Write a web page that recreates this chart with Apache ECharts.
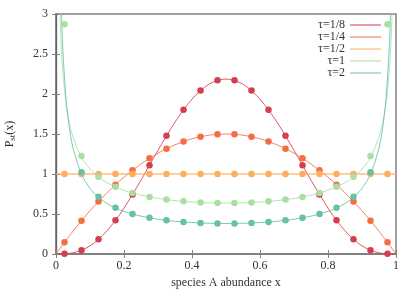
<!DOCTYPE html>
<html><head><meta charset="utf-8">
<script src="https://cdn.jsdelivr.net/npm/echarts@6/dist/echarts.min.js"></script>
<style>html,body{margin:0;padding:0;background:#fff}#c{width:415px;height:291px}</style>
</head><body><div id="c"></div>
<script>
// x positions of the smooth theory curves
const lineX = [0, 0.005, 0.01, 0.015, 0.02, 0.03, 0.04, 0.05, 0.075, 0.1, 0.125, 0.15, 0.175, 0.2, 0.25, 0.3, 0.35, 0.4, 0.45, 0.5,
  0.55, 0.6, 0.65, 0.7, 0.75, 0.8, 0.825, 0.85, 0.875, 0.9, 0.925, 0.95, 0.96, 0.97, 0.98, 0.985, 0.99, 0.995, 1];
const lineTau8 = [0, 0.0000, 0.0001, 0.0005, 0.0011, 0.0035, 0.0079, 0.0150, 0.0467, 0.1021, 0.1832, 0.2902, 0.4213, 0.5734, 0.9229, 1.2965, 1.6484, 1.9354, 2.1225, 2.1875,
  2.1225, 1.9354, 1.6484, 1.2965, 0.9229, 0.5734, 0.4213, 0.2902, 0.1832, 0.1021, 0.0467, 0.0150, 0.0079, 0.0035, 0.0011, 0.0005, 0.0001, 0.0000, 0];
const lineTau4 = [0, 0.0299, 0.0594, 0.0887, 0.1176, 0.1746, 0.2304, 0.285, 0.4163, 0.54, 0.6563, 0.765, 0.8663, 0.96, 1.125, 1.26, 1.365, 1.44, 1.485, 1.5,
  1.485, 1.44, 1.365, 1.26, 1.125, 0.96, 0.8663, 0.765, 0.6563, 0.54, 0.4163, 0.285, 0.2304, 0.1746, 0.1176, 0.0887, 0.0594, 0.0299, 0];
const lineTau2 = [1, 1, 1, 1, 1, 1, 1, 1, 1, 1, 1, 1, 1, 1, 1, 1, 1, 1, 1, 1,
  1, 1, 1, 1, 1, 1, 1, 1, 1, 1, 1, 1, 1, 1, 1, 1, 1, 1, 1];
const lineTau1 = [null, 4.513, 3.199, 2.619, 2.274, 1.866, 1.624, 1.461, 1.209, 1.061, 0.9625, 0.8914, 0.8377, 0.7958, 0.7351, 0.6946, 0.6674, 0.6497, 0.6398, 0.6366,
  0.6398, 0.6497, 0.6674, 0.6946, 0.7351, 0.7958, 0.8377, 0.8914, 0.9625, 1.061, 1.209, 1.461, 1.624, 1.866, 2.274, 2.619, 3.199, 4.513, null];
const lineTauTwo = [null, 7.198, 4.296, 3.182, 2.574, 1.914, 1.555, 1.325, 0.9975, 0.8206, 0.7089, 0.6320, 0.5757, 0.5330, 0.4732, 0.4347, 0.4093, 0.3932, 0.3843, 0.3814,
  0.3843, 0.3932, 0.4093, 0.4347, 0.4732, 0.5330, 0.5757, 0.6320, 0.7089, 0.8206, 0.9975, 1.325, 1.555, 1.914, 2.574, 3.182, 4.296, 7.198, null];

// x positions of the simulation points
const dotX = [0.025, 0.075, 0.125, 0.175, 0.225, 0.275, 0.325, 0.375, 0.425, 0.475,
  0.525, 0.575, 0.625, 0.675, 0.725, 0.775, 0.825, 0.875, 0.925, 0.975];
const dotTau8 = [0.0020, 0.0467, 0.1832, 0.4213, 0.7423, 1.1095, 1.478, 1.8025, 2.0431, 2.1711,
  2.1711, 2.0431, 1.8025, 1.478, 1.1095, 0.7423, 0.4213, 0.1832, 0.0467, 0.0020];
const dotTau4 = [0.1463, 0.4163, 0.6563, 0.8663, 1.0463, 1.1963, 1.3163, 1.4063, 1.4663, 1.4963,
  1.4963, 1.4663, 1.4063, 1.3163, 1.1963, 1.0463, 0.8663, 0.6563, 0.4163, 0.1463];
const dotTau2 = [1, 1, 1, 1, 1, 1, 1, 1, 1, 1, 1, 1, 1, 1, 1, 1, 1, 1, 1, 1];
const dotTau1 = [2.871, 1.225, 0.967, 0.840, 0.763, 0.714, 0.680, 0.658, 0.644, 0.638,
  0.638, 0.644, 0.658, 0.680, 0.714, 0.763, 0.840, 0.967, 1.225, 2.871];
const dotTauTwo = [5.14, 1.023, 0.715, 0.578, 0.501, 0.453, 0.421, 0.401, 0.388, 0.382,
  0.382, 0.388, 0.401, 0.421, 0.453, 0.501, 0.578, 0.715, 1.023, 5.14];

const seriesNames = ['τ=1/8', 'τ=1/4', 'τ=1/2', 'τ=1', 'τ=2'];
const xTicks = [0, 0.2, 0.4, 0.6, 0.8, 1];
const yTicks = [0, 0.5, 1, 1.5, 2, 2.5, 3];

const colors = ['#d53e4f', '#f46d43', '#fdae61', '#abdda4', '#66c2a5'];
const lineSets = [lineTau8, lineTau4, lineTau2, lineTau1, lineTauTwo];
const dotSets = [dotTau8, dotTau4, dotTau2, dotTau1, dotTauTwo];
const FONT = 'Liberation Serif';
const TXT = '#333';

const series = [];
lineSets.forEach((ys, i) => {
  series.push({
    name: seriesNames[i], type: 'line', symbol: 'none', smooth: 0.3, clip: true,
    data: lineX.map((x, k) => [x, ys[k]]),
    lineStyle: { color: colors[i], width: i === 2 ? 2 : 1, opacity: i === 2 ? 0.6 : 0.85 },
    itemStyle: { color: colors[i] }, z: 2
  });
});
dotSets.forEach((ys, i) => {
  series.push({
    name: seriesNames[i] + ' sim', type: 'scatter', symbolSize: 6.5, clip: true,
    data: dotX.map((x, k) => [x, ys[k]]),
    itemStyle: { color: colors[i], opacity: 1 }, z: 3
  });
});

const chart = echarts.init(document.getElementById('c'), null, { renderer: 'canvas' });
const axisCommon = {
  axisLine: { show: true, lineStyle: { color: '#808080', width: 1.5 } },
  axisTick: { show: true, inside: true, length: 4, lineStyle: { color: '#808080', width: 1 } },
  splitLine: { show: false }
};
chart.setOption({
  animation: false,
  backgroundColor: '#fff',
  grid: { left: 56, right: 19, top: 14, bottom: 37, containLabel: false, outerBoundsMode: 'none',
    show: true, borderColor: '#808080', borderWidth: 1.5 },
  legend: {
    data: seriesNames, orient: 'vertical', right: 34, top: 19, align: 'right',
    itemWidth: 31, itemHeight: 8, itemGap: 0, padding: 0,
    textStyle: { fontFamily: FONT, fontSize: 12, lineHeight: 11.5, color: TXT, padding: [0, 0, 0, 0] },
    icon: 'path://M0,4L31,4L31,5L0,5Z'
  },
  xAxis: [
    Object.assign({}, axisCommon, {
      type: 'value', min: xTicks[0], max: xTicks[xTicks.length - 1], interval: 0.2, position: 'bottom',
      axisLabel: { fontFamily: FONT, fontSize: 12, color: TXT, margin: 6 },
      name: 'species A abundance x', nameLocation: 'middle', nameGap: 23,
      nameTextStyle: { fontFamily: FONT, fontSize: 12, color: TXT }
    }),
    Object.assign({}, axisCommon, {
      type: 'value', min: xTicks[0], max: xTicks[xTicks.length - 1], interval: 0.2, position: 'top',
      axisLabel: { show: false }
    })
  ],
  yAxis: [
    Object.assign({}, axisCommon, {
      type: 'value', min: yTicks[0], max: yTicks[yTicks.length - 1], interval: 0.5, position: 'left',
      axisLine: { show: true, lineStyle: { color: '#111', width: 1.2 } },
      axisLabel: { fontFamily: FONT, fontSize: 12, color: TXT, margin: 8 },
      name: '{m|P}{s|st}{m|(x)}', nameLocation: 'middle', nameGap: 39, nameRotate: 90,
      nameTextStyle: { rich: {
        m: { fontFamily: FONT, fontSize: 12, color: TXT },
        s: { fontFamily: FONT, fontSize: 9, color: TXT, verticalAlign: 'bottom', padding: [6, 0, 0, 0] }
      } }
    }),
    Object.assign({}, axisCommon, {
      type: 'value', min: yTicks[0], max: yTicks[yTicks.length - 1], interval: 0.5, position: 'right',
      axisLabel: { show: false }
    })
  ],
  series: series
});
</script>
</body></html>
